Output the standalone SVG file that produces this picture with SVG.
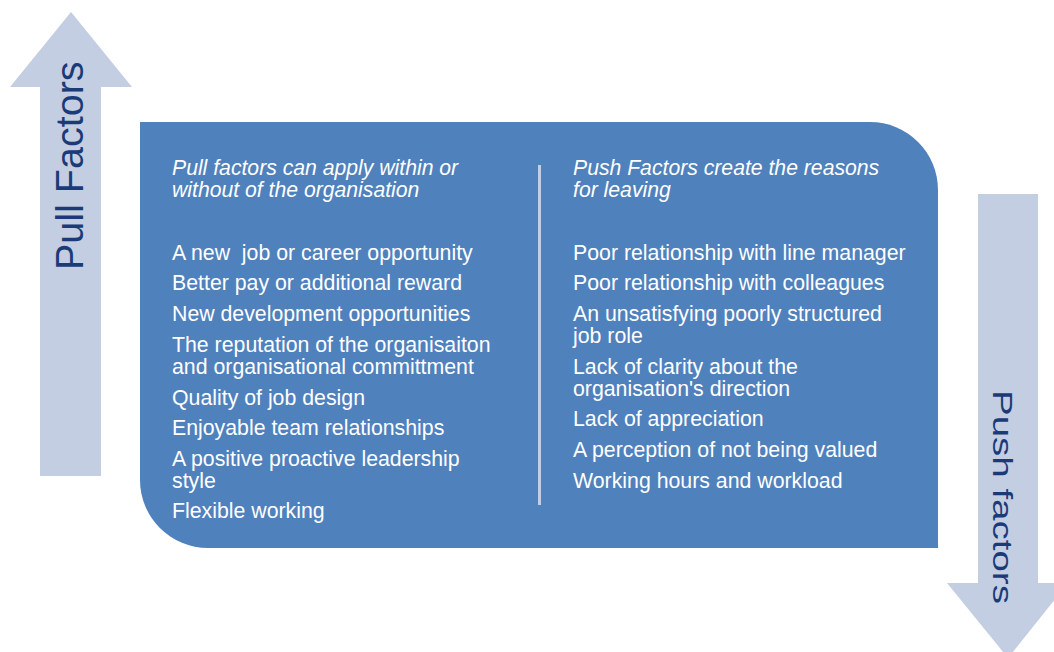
<svg xmlns="http://www.w3.org/2000/svg" width="1054" height="652" viewBox="0 0 1054 652">
<style>
.arrow{fill:#c3cee2}
.lbl{font-family:"Liberation Sans",Arial,sans-serif;fill:#1b3a78}
.t{font-family:"Liberation Sans",Arial,sans-serif;font-size:21.3px;fill:#ffffff}
.h{font-family:"Liberation Sans",Arial,sans-serif;font-size:21.2px;font-style:italic;fill:#ffffff}
</style>
<rect width="1054" height="652" fill="#ffffff"/>
<g id="pull-arrow">
<polygon class="arrow" points="71,12 132,87 101,87 101,476 40,476 40,87 10,87"/>
<text class="lbl" font-size="39.5" transform="translate(83,270) rotate(-90)">Pull Factors</text>
</g>
<g id="push-arrow">
<polygon class="arrow" points="978,194 1038,194 1038,583 1068,583 1008,658 947,583 978,583"/>
<text class="lbl" font-size="38.5" transform="translate(993,390) rotate(90) scale(1,0.72)">Push factors</text>
</g>
<g id="main-box">
<path d="M140,122 H870 A68,68 0 0 1 938,190 V548 H208 A68,68 0 0 1 140,480 Z" fill="#4f81bd"/>
<rect x="538" y="165" width="3" height="340" fill="#c3cee2"/>
</g>
<g id="pull-text">
<text class="h" x="172" y="175">Pull factors can apply within or</text>
<text class="h" x="172" y="197">without of the organisation</text>
<text class="t" x="172" y="260" xml:space="preserve">A new  job or career opportunity</text>
<text class="t" x="172" y="290">Better pay or additional reward</text>
<text class="t" x="172" y="321">New development opportunities</text>
<text class="t" x="172" y="352">The reputation of the organisaiton</text>
<text class="t" x="172" y="374">and organisational committment</text>
<text class="t" x="172" y="405">Quality of job design</text>
<text class="t" x="172" y="435">Enjoyable team relationships</text>
<text class="t" x="172" y="466">A positive proactive leadership</text>
<text class="t" x="172" y="488">style</text>
<text class="t" x="172" y="518">Flexible working</text>
</g>
<g id="push-text">
<text class="h" x="573" y="175">Push Factors create the reasons</text>
<text class="h" x="573" y="197">for leaving</text>
<text class="t" x="573" y="260">Poor relationship with line manager</text>
<text class="t" x="573" y="290">Poor relationship with colleagues</text>
<text class="t" x="573" y="321">An unsatisfying poorly structured</text>
<text class="t" x="573" y="343">job role</text>
<text class="t" x="573" y="374">Lack of clarity about the</text>
<text class="t" x="573" y="396">organisation's direction</text>
<text class="t" x="573" y="426">Lack of appreciation</text>
<text class="t" x="573" y="457">A perception of not being valued</text>
<text class="t" x="573" y="488">Working hours and workload</text>
</g>
</svg>
